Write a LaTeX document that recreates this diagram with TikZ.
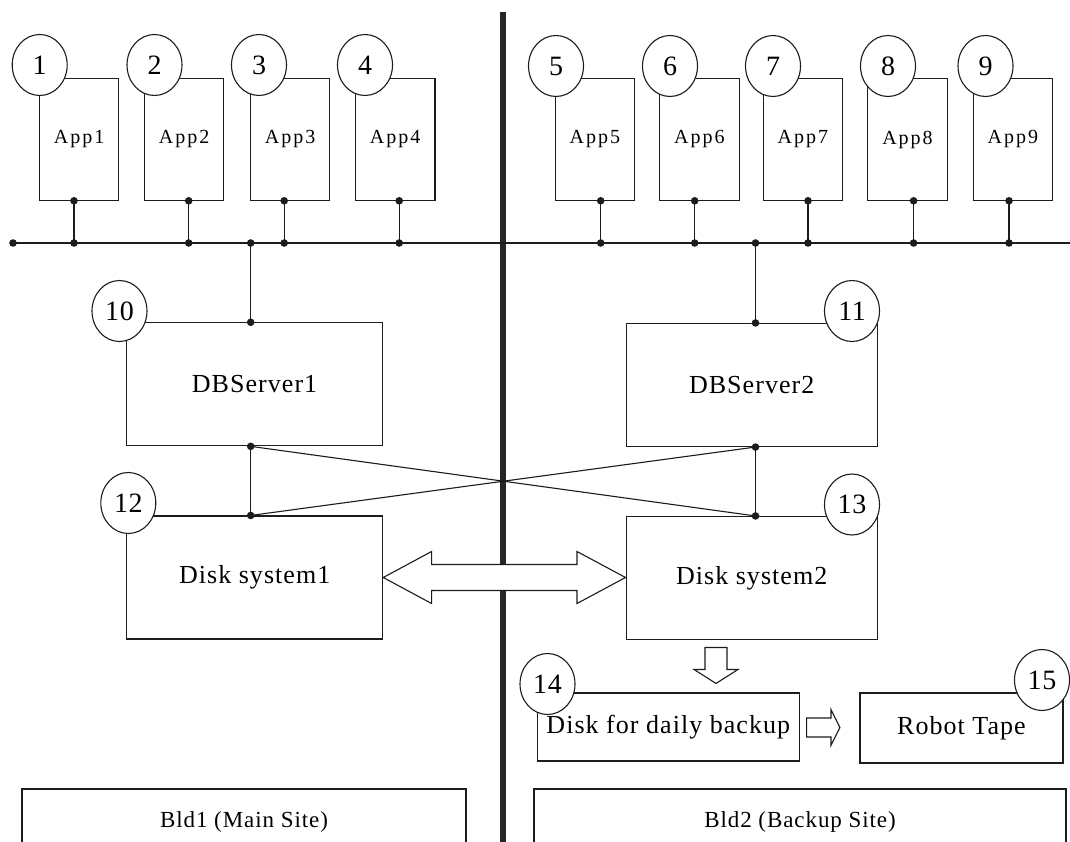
\documentclass[tikz,border=0pt]{standalone}
\usepackage{fontspec}
\setmainfont{Liberation Serif}
\newfontfamily\lblfont[LetterSpace=4]{Liberation Serif}
\newfontfamily\appfont[LetterSpace=10]{Liberation Serif}
\newfontfamily\numfont[LetterSpace=2]{Liberation Serif}
\usetikzlibrary{calc,shapes.geometric}
\definecolor{ink}{HTML}{1C1C1C}
\definecolor{wallink}{HTML}{262626}
\begin{document}
\begin{tikzpicture}[x=1pt,y=-1pt,
  box/.style={draw=ink, line width=1.1pt, rectangle, inner sep=0pt,
    font=\lblfont\fontsize{26}{30}\selectfont},
  appbox/.style={box, minimum width=79.5pt, minimum height=121.5pt,
    font=\appfont\fontsize{20}{24}\selectfont},
  bigbox/.style={box, minimum height=123pt},
  tag/.style={draw=ink, line width=1.1pt, ellipse, fill=white, inner sep=0pt,
    minimum width=55pt, minimum height=61pt,
    font=\numfont\fontsize{28}{30}\selectfont},
  wire/.style={draw=ink, line width=1.1pt},
  joint/.style={fill=ink},
  site/.style={draw=ink, line width=1.7pt, rectangle, inner sep=0pt,
    font=\lblfont\fontsize{23}{26}\selectfont},
  hollow/.style={draw=ink, line width=1.1pt, fill=white, line join=miter},
  divider/.style={draw=wallink, line width=6pt}]

\useasboundingbox (0,0) rectangle (1070,842);
\clip (0,0) rectangle (1070,842);
\fill[white] (0,0) rectangle (1070,842);

% wall between the two buildings
\draw[divider] (503,12) -- (503,842);

% application servers
\foreach \n/\cx in {1/79.1,2/184.1,3/290.1,4/395.2,5/594.8,6/699.4,7/802.8,8/907.5,9/1012.8}
  \node[appbox] (app\n) at (\cx,139.5) {App\n};

% database servers and disk systems
\node[bigbox, minimum width=256pt] (db1) at (254.6,384.3) {DBServer1};
\node[bigbox, minimum width=251.3pt] (db2) at (751.7,385) {DBServer2};
\node[bigbox, minimum width=256pt] (disk1) at (254.7,577.5) {Disk system1};
\node[bigbox, minimum width=251.3pt] (disk2) at (751.7,578) {Disk system2};

% backup chain
\node[box, minimum width=261.5pt, minimum height=68pt] (daily) at (668.3,727) {Disk for daily backup};
\node[box, minimum width=203pt, minimum height=70pt] (robot) at (961.5,728) {Robot Tape};

% site captions
\node[site, minimum width=444pt, minimum height=66pt] (bld1) at (244,822) {Bld1 (Main Site)};
\node[site, minimum width=532pt, minimum height=66pt] (bld2) at (800,822) {Bld2 (Backup Site)};

% LAN bus
\coordinate (busL) at (13,243);
\coordinate (busR) at (1070,243);
\draw[wire] (busL) -- (busR);
\fill[joint] (busL) circle (3.8pt);

\foreach \n/\x in {1/74,2/188.7,3/284.2,4/399.2,5/600.7,6/694.7,7/808,8/913.6,9/1009}{
  \coordinate (drop\n) at (app\n.south -| \x,0);
  \draw[wire] (drop\n) -- (drop\n |- busL);
  \fill[joint] (drop\n) circle (3.8pt);
  \fill[joint] (drop\n |- busL) circle (3.8pt);
}

% database links
\coordinate (db1top) at (db1.north -| 250.7,0);
\coordinate (db1bot) at (db1.south -| 250.7,0);
\coordinate (dk1top) at (disk1.north -| 250.7,0);
\coordinate (db2top) at (db2.north -| 755.5,0);
\coordinate (db2bot) at (db2.south -| 755.5,0);
\coordinate (dk2top) at (disk2.north -| 755.5,0);

\draw[wire] (db1top |- busL) -- (db1top);
\draw[wire] (db2top |- busL) -- (db2top);
\draw[wire] (db1bot) -- (dk1top);
\draw[wire] (db2bot) -- (dk2top);
\draw[wire] (db1bot) -- (dk2top);
\draw[wire] (dk1top) -- (db2bot);
\foreach \c in {db1top,db1bot,dk1top,db2top,db2bot,dk2top}
  \fill[joint] (\c) circle (3.8pt);
\fill[joint] (db1top |- busL) circle (3.8pt);
\fill[joint] (db2top |- busL) circle (3.8pt);

% replication arrow between the disk systems
\coordinate (aL) at (disk1.east);
\coordinate (aR) at (disk2.west |- disk1.east);
\draw[hollow] (aL) -- ($(aL)+(48.3,-26)$) -- ($(aL)+(48.3,-13)$)
  -- ($(aR)+(-48.5,-13)$) -- ($(aR)+(-48.5,-26)$) -- (aR)
  -- ($(aR)+(-48.5,26)$) -- ($(aR)+(-48.5,13)$)
  -- ($(aL)+(48.3,13)$) -- ($(aL)+(48.3,26)$) -- cycle;

% disk system2 to daily backup disk
\coordinate (dnTop) at ($(disk2.south -| 716,0)+(0,7.4)$);
\coordinate (dnTip) at ($(daily.north -| 716,0)+(0,-9)$);
\draw[hollow] ($(dnTop)+(-11,0)$) -- ($(dnTip)+(-11,-14)$) -- ($(dnTip)+(-22,-14)$)
  -- (dnTip) -- ($(dnTip)+(22,-14)$) -- ($(dnTip)+(11,-14)$)
  -- ($(dnTop)+(11,0)$) -- cycle;

% daily backup disk to robot tape
\coordinate (rtBase) at ($(daily.east)+(7,0.5)$);
\coordinate (rtTip) at ($(robot.west |- rtBase)+(-19.5,0)$);
\draw[hollow] ($(rtBase)+(0,-9.5)$) -- ($(rtTip)+(-9,-9.5)$) -- ($(rtTip)+(-9,-18)$)
  -- (rtTip) -- ($(rtTip)+(-9,18)$) -- ($(rtTip)+(-9,9.5)$)
  -- ($(rtBase)+(0,9.5)$) -- cycle;

% number tags
\node[tag] (t1) at (39.7,65) {1};
\node[tag] (t2) at (154.5,65) {2};
\node[tag] (t3) at (259,65) {3};
\node[tag] (t4) at (365,65) {4};
\node[tag] (t5) at (556,66) {5};
\node[tag] (t6) at (670,66) {6};
\node[tag] (t7) at (773,66) {7};
\node[tag] (t8) at (888,66) {8};
\node[tag] (t9) at (985.5,66) {9};
\node[tag] (t10) at (119.5,311) {10};
\node[tag] (t11) at (852,311) {11};
\node[tag] (t12) at (128.3,503) {12};
\node[tag] (t13) at (852,504.5) {13};
\node[tag] (t14) at (547.5,684) {14};
\node[tag] (t15) at (1042,680) {15};
\end{tikzpicture}
\end{document}
